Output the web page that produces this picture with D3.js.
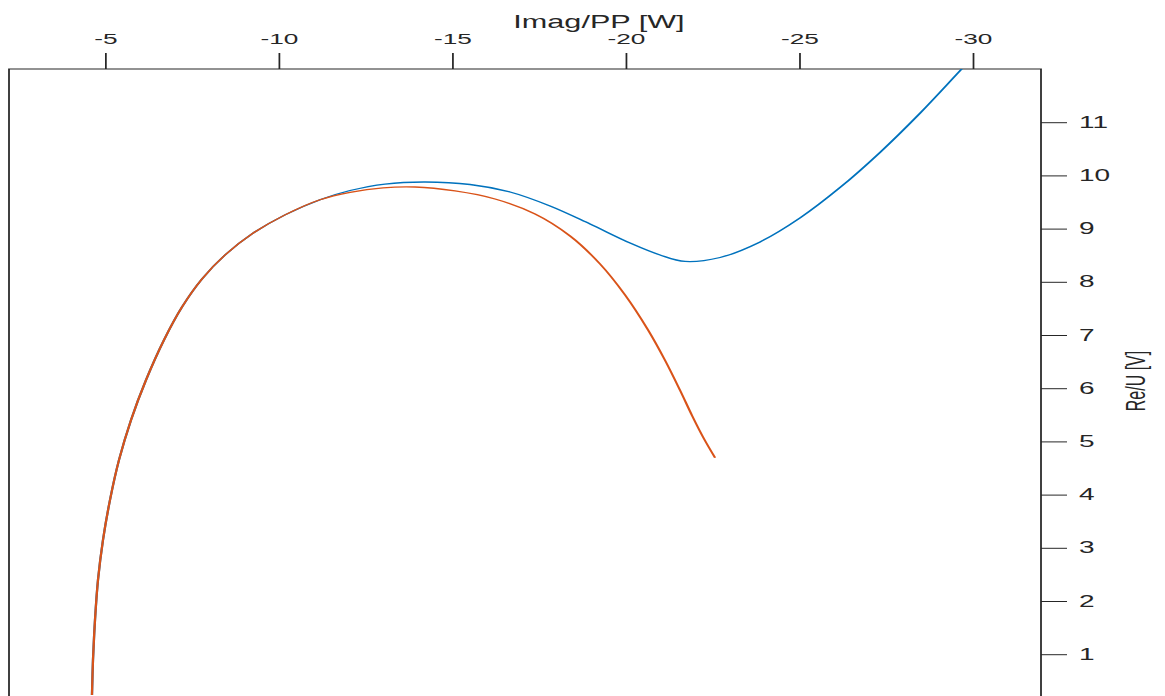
<!DOCTYPE html>
<html>
<head>
<meta charset="utf-8">
<script src="https://cdn.jsdelivr.net/npm/d3@7"></script>
<style>
  html, body { margin: 0; padding: 0; background: #fff; }
  svg { display: block; }
  text { font-family: "Liberation Sans", Arial, Helvetica, sans-serif; fill: #262626; }
</style>
</head>
<body>
<div id="chart"></div>
<script>
// Shared branch (low Re/U rising toward the crest)
const sharedImag = [-4.625, -4.654, -4.712, -4.798, -4.942, -5.144, -5.403, -5.749, -6.182, -6.700, -7.219, -7.795, -8.458, -9.236, -10.187, -11.196];
const sharedRe   = [0.233, 0.891, 1.643, 2.395, 3.147, 3.899, 4.650, 5.402, 6.154, 6.906, 7.526, 8.053, 8.504, 8.900, 9.258, 9.543];

// Blue series continuation
const blueImag = [-12.061, -13.069, -14.222, -15.519, -16.671, -17.824, -18.977, -20.130, -20.994, -21.715, -22.723, -23.876, -25.029, -26.182, -27.334, -28.487, -29.582, -30.648];
const blueRe   = [9.716, 9.838, 9.876, 9.829, 9.688, 9.425, 9.086, 8.729, 8.504, 8.382, 8.457, 8.750, 9.201, 9.773, 10.434, 11.171, 11.929, 12.677];

// Orange series continuation
const orangeImag = [-12.061, -13.012, -13.934, -15.086, -16.239, -17.392, -18.401, -19.265, -19.986, -20.648, -21.138, -21.571, -21.916, -22.233, -22.579];
const orangeRe   = [9.682, 9.767, 9.782, 9.707, 9.556, 9.274, 8.861, 8.335, 7.752, 7.094, 6.523, 5.959, 5.485, 5.081, 4.692];

const xTicks = [-5, -10, -15, -20, -25, -30];
const yTicks = [1, 2, 3, 4, 5, 6, 7, 8, 9, 10, 11];
const xDomain = [-2.234, -31.97];
const yDomain = [0, 12];

const W = 1165, H = 696;
const S = 1.75;              // horizontal stretch of the drawing
const VW = W / S;

const plotLeft = 9 / S, plotRight = 1041 / S, plotTop = 69, plotBottom = 707.4;

const svg = d3.select("#chart").append("svg")
  .attr("width", W).attr("height", H)
  .attr("viewBox", `0 0 ${VW} ${H}`)
  .attr("preserveAspectRatio", "none");

const x = d3.scaleLinear().domain(xDomain).range([plotLeft, plotRight]);
const y = d3.scaleLinear().domain(yDomain).range([plotBottom, plotTop]);

svg.append("defs").append("clipPath").attr("id", "plotclip")
  .append("rect").attr("x", plotLeft).attr("y", plotTop)
  .attr("width", plotRight - plotLeft).attr("height", plotBottom - plotTop);

// Box
const axisColor = "#262626";
svg.append("path")
  .attr("d", `M${plotLeft},${plotBottom + 5}V${plotTop}H${plotRight}V${plotBottom + 5}`)
  .attr("fill", "none").attr("stroke", axisColor).attr("stroke-width", 1);

// Top axis
const xAxis = d3.axisTop(x).tickValues(xTicks).tickSize(16).tickSizeOuter(0).tickPadding(9)
  .tickFormat(d => String(d));
const gx = svg.append("g").attr("transform", `translate(0,${plotTop})`).call(xAxis);
gx.select(".domain").remove();
gx.selectAll(".tick line").attr("stroke", axisColor).attr("stroke-width", 1);
gx.selectAll(".tick text").attr("font-size", 15).attr("fill", axisColor)
  .style("font-family", '"Liberation Sans", Arial, sans-serif');

// Right axis
const yAxis = d3.axisRight(y).tickValues(yTicks).tickSize(26 / S).tickSizeOuter(0).tickPadding(6.8)
  .tickFormat(d => String(d));
const gy = svg.append("g").attr("transform", `translate(${plotRight},0)`).call(yAxis);
gy.select(".domain").remove();
gy.selectAll(".tick line").attr("stroke", axisColor).attr("stroke-width", 1);
gy.selectAll(".tick text").attr("font-size", 16).attr("fill", axisColor)
  .style("font-family", '"Liberation Sans", Arial, sans-serif');

// Axis titles
svg.append("text")
  .attr("x", 599 / S).attr("y", 28)
  .attr("text-anchor", "middle").attr("font-size", 17.5)
  .text("Imag/PP [W]");

svg.append("text")
  .attr("transform", `translate(${1145 / S},381) rotate(-90)`)
  .attr("text-anchor", "middle").attr("font-size", 16)
  .text("Re/U [V]");

// Curves
const toPts = (xs, ys) => xs.map((v, i) => [v, ys[i]]);
const line = d3.line().x(d => x(d[0])).y(d => y(d[1])).curve(d3.curveCatmullRom.alpha(0.5));

const blue = toPts(sharedImag, sharedRe).concat(toPts(blueImag, blueRe));
const orange = toPts(sharedImag, sharedRe).concat(toPts(orangeImag, orangeRe));

const plot = svg.append("g").attr("clip-path", "url(#plotclip)");
plot.append("path").datum(blue).attr("d", line)
  .attr("fill", "none").attr("stroke", "#0072BD").attr("stroke-width", 1.3);
plot.append("path").datum(orange).attr("d", line)
  .attr("fill", "none").attr("stroke", "#D95319").attr("stroke-width", 1.3);
</script>
</body>
</html>
